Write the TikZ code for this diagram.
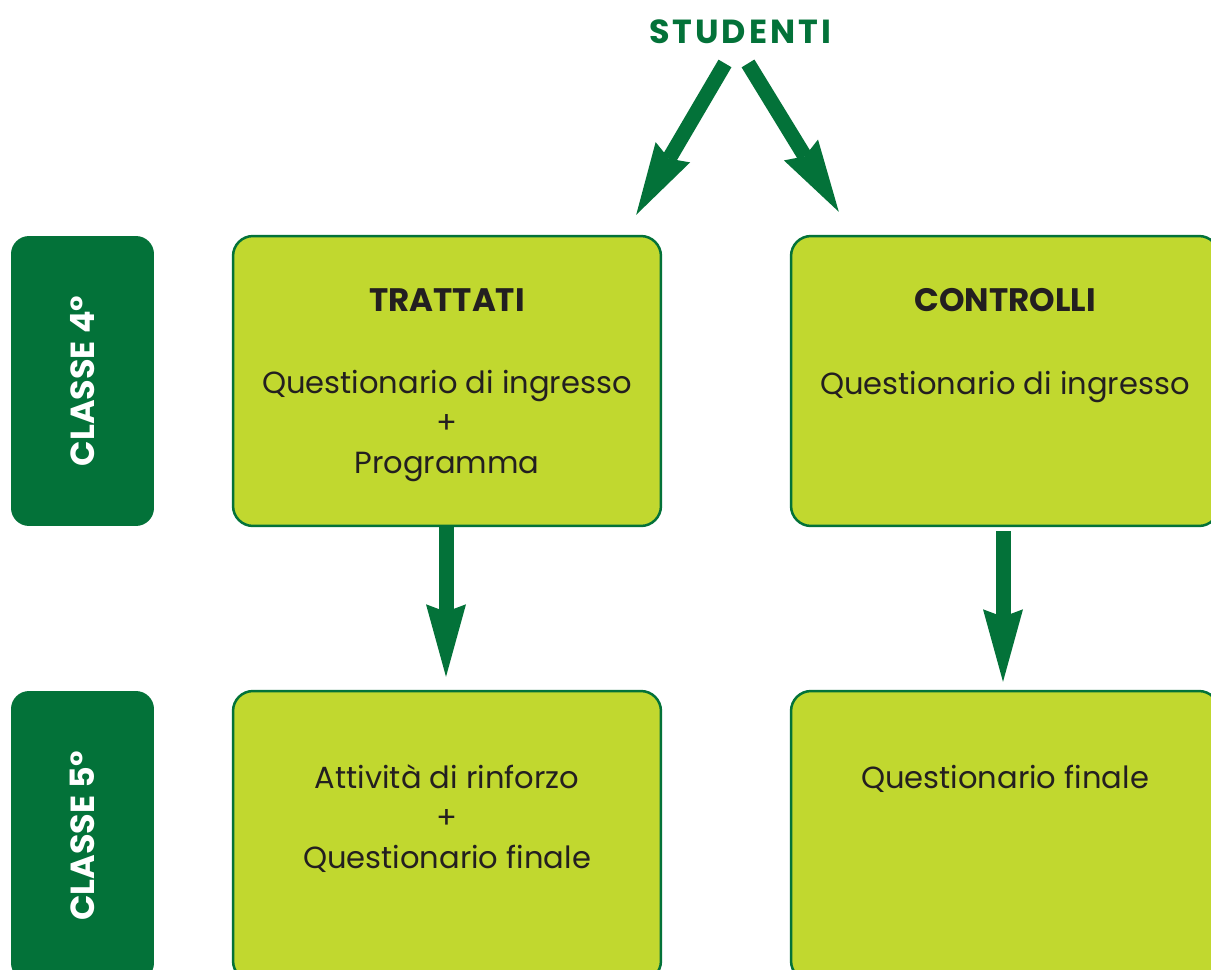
\documentclass[tikz,border=0pt]{standalone}
\usepackage{fontspec}
\setmainfont{Poppins}
\usepackage{tikz}
\usetikzlibrary{positioning,arrows.meta,calc}
\definecolor{dkgreen}{RGB}{3,114,57}
\definecolor{ltgreen}{RGB}{193,216,47}
\definecolor{ink}{RGB}{35,31,32}
\tikzstyle{classbox} = [rectangle, rounded corners=0.36cm, fill=dkgreen,
                        minimum width=2.86cm, minimum height=5.8cm, inner sep=0pt]
\tikzstyle{classtxt} = [rotate=90, text=white, font=\bfseries\fontsize{19}{22}\selectfont]
\tikzstyle{group}    = [rectangle, rounded corners=0.4cm, draw=dkgreen, line width=0.05cm,
                        fill=ltgreen, minimum width=8.56cm, minimum height=5.8cm, inner sep=0pt]
\tikzstyle{gtitle}   = [anchor=base, text=ink, font=\bfseries\fontsize{18.5}{22}\selectfont]
\tikzstyle{gbody}    = [anchor=base, text=ink, align=center, font=\fontsize{17.4}{22.76}\selectfont]
\tikzstyle{bigarrow} = [draw=dkgreen, line width=0.3cm,
                        -{Stealth[width=0.8cm,length=1.45cm,inset=0.15cm,line width=0pt,fill=dkgreen]}]

\begin{document}
\begin{tikzpicture}[x=0.02cm, y=-0.02cm]
		\clip (0,0) rectangle (1211,970);
		\fill[white] (0,0) rectangle (1211,970);

		\node[anchor=base, text=dkgreen, font=\bfseries\fontsize{19}{22}\selectfont\addfontfeatures{LetterSpace=9}] (stud) at (740,43) {STUDENTI};

		\node[classbox] (cl4) at (82.5,381) {};
		\node[classtxt] (cl4t) at (cl4.center) {CLASSE 4°};
		\node[classbox] (cl5) at (82.5,836) {};
		\node[classtxt] (cl5t) at (cl5.center) {CLASSE 5°};

		\node[group] (trat) at (447,381) {};
		\node[group] (ctrl) at (1005,381) {};
		\node[group] (attiv) at (447,836) {};
		\node[group] (qfin) at (1005,836) {};

		% base of a multi-line node = baseline of its last line
		\node[gtitle, below=1.54cm of trat.north, anchor=base] (tratT) {TRATTATI};
		\node[gbody, below=4.78cm of trat.north, anchor=base] (tratB) {Questionario di ingresso\\+\\Programma};
		\node[gtitle, below=1.54cm of ctrl.north, anchor=base] (ctrlT) {CONTROLLI};
		\node[gbody, below=3.2cm of ctrl.north, anchor=base] (ctrlB) {Questionario di ingresso};
		\node[gbody, below=3.58cm of attiv.north, anchor=base] (attivB) {Attività di rinforzo\\+\\Questionario finale};
		\node[gbody, below=1.98cm of qfin.north, anchor=base] (qfinB) {Questionario finale};

		\draw[bigarrow] ($(stud.south)+(-15,14)$) -- ($(trat.north east)+(-26,-20)$);
		\draw[bigarrow] ($(stud.south)+(8,14)$) -- ($(ctrl.north west)+(49,-23)$);
		\draw[bigarrow] ([xshift=-0.02cm]trat.south) -- ([xshift=-0.02cm,yshift=0.26cm]attiv.north);
		\draw[bigarrow] ([xshift=-0.04cm,yshift=-0.08cm]ctrl.south) -- ([xshift=-0.04cm,yshift=0.16cm]qfin.north);
	\end{tikzpicture}
\end{document}
